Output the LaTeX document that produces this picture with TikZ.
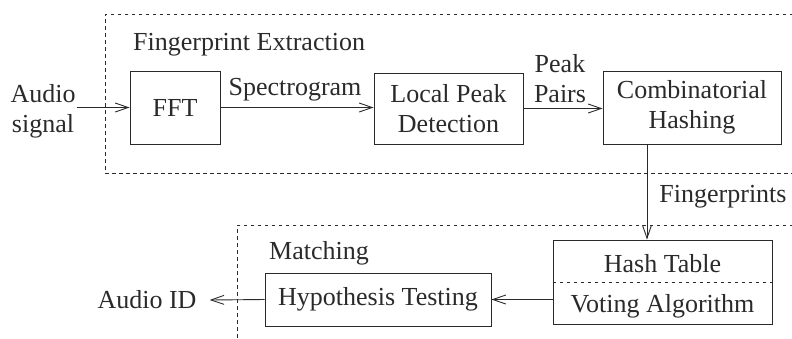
\documentclass[tikz,border=0pt]{standalone}
\usepackage{fontspec}
\setmainfont{Liberation Serif}
\usetikzlibrary{arrows.meta}
\definecolor{ink}{HTML}{2A2A2A}
\tikzset{
  lbl/.style={inner sep=0pt, text=ink, font=\fontsize{26}{30}\selectfont},
  blk/.style={draw=ink, line width=0.9pt, inner sep=0pt, align=center, text=ink,
              font=\fontsize{26}{30}\selectfont},
  arr/.style={draw=ink, line width=0.9pt, -{Straight Barb[length=13pt,width=9pt,line width=0.9pt]}},
  frame/.style={draw=ink, line width=0.8pt, dash pattern=on 3.5pt off 3.5pt},
}
\begin{document}
\begin{tikzpicture}[x=1pt,y=-1pt]
\useasboundingbox (0,0) rectangle (792,338);
\clip (0,0) rectangle (792,338);
% frames
\coordinate (f1tr) at (800,14);
\coordinate (f1tl) at (105,14);
\coordinate (f1bl) at (105,173);
\coordinate (f1br) at (800,173);
\draw[frame] (f1tr) -- (f1tl) -- (f1bl) -- (f1br);
\coordinate (f2tr) at (800,225);
\coordinate (f2tl) at (237,225);
\coordinate (f2bl) at (237,345);
\draw[frame] (f2tr) -- (f2tl) -- (f2bl);
% titles
\node[lbl, anchor=base west] (fe) at (133,50) {Fingerprint Extraction};
\node[lbl, anchor=base west] (mt) at (269,259) {Matching};
% blocks
\node[blk, minimum width=90pt, minimum height=73pt] (fft) at (175,107.5) {FFT};
\node[blk, minimum width=149pt, minimum height=71pt] (lpd) at (448.5,108.5) {Local Peak\\Detection};
\node[blk, minimum width=178pt, minimum height=73pt] (ch) at (692,107.5) {Combinatorial\\Hashing};
\node[blk, minimum width=219pt, minimum height=84pt] (hash) at (662.5,282) {};
\node[blk, minimum width=226pt, minimum height=53pt] (ht) at (378,299.5) {Hypothesis Testing};
\draw[frame] (hash.west) -- (hash.east);
\node[lbl, anchor=base] (htab) at (662.5,272) {Hash Table};
\node[lbl, anchor=base] (vote) at (662.5,312) {Voting Algorithm};
% side labels
\node[lbl, align=center] (audio) at (43,111) {Audio\\signal};
\node[lbl] (aid) at (147,300) {Audio ID};
\node[lbl, anchor=base] (spec) at (295,95) {Spectrogram};
\node[lbl, align=center] (pp) at (560,79) {Peak\\Pairs};
\node[lbl, anchor=base] (fp) at (723,202) {Fingerprints};
% connectors
\coordinate (vx) at (647,0);
\draw[arr] ([xshift=1pt]audio.east |- fft.west) -- (fft.west);
\draw[arr] (fft.east) -- (lpd.west |- fft.east);
\draw[arr] (lpd.east) -- (ch.west |- lpd.east);
\draw[arr] (ch.south -| vx) -- (hash.north -| vx);
\draw[arr] (hash.west |- ht.east) -- (ht.east);
\draw[arr] (ht.west) -- ([xshift=13pt]aid.east);
\end{tikzpicture}
\end{document}
